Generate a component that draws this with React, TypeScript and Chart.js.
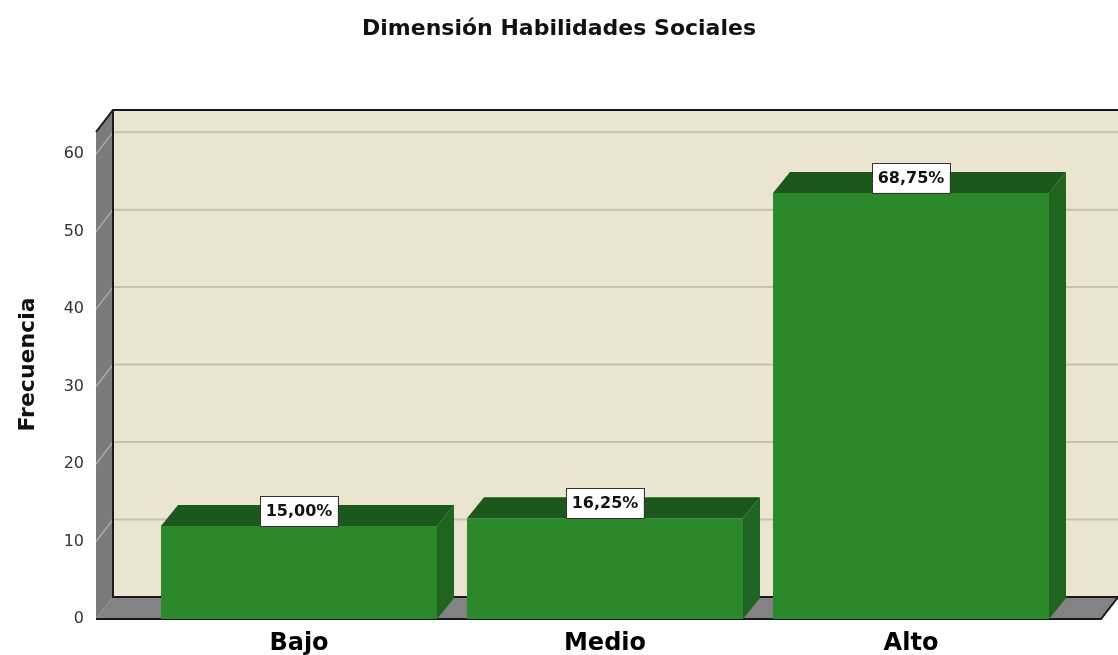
import React, { useEffect, useRef } from "react";
import { Chart, registerables } from "chart.js";

Chart.register(...registerables);

const categories = ["Bajo", "Medio", "Alto"];
const frequencies = [12, 13, 55];
const yTicks = [0, 10, 20, 30, 40, 50, 60];
const titleText = "Dimensión Habilidades Sociales";
const yAxisTitle = "Frecuencia";

const W = 1118;
const H = 655;
const DEPTH_X = 17;
const DEPTH_Y = 22;
const BAR_DX = 17;
const BAR_DY = 21;
const FONT = "'DejaVu Sans', 'Liberation Sans', Arial, sans-serif";

const total = frequencies.reduce((a, b) => a + b, 0);
const pctLabels = frequencies.map((v) => ((v / total) * 100).toFixed(2).replace(".", ",") + "%");

const box3d = {
  id: "box3d",
  beforeDraw(chart: any) {
    const ctx = chart.ctx;
    ctx.save();
    ctx.fillStyle = "#ffffff";
    ctx.fillRect(0, 0, chart.width, chart.height);
    ctx.restore();
  },
  beforeDatasetsDraw(chart: any) {
    const { ctx, chartArea: ca, scales } = chart;
    const ys = scales.y;
    const fl = ca.left - 50;
    const fr = ca.right + 37;
    const fb = ys.getPixelForValue(0);
    const bt = ca.top;
    const ft = bt + DEPTH_Y;
    const bx = fl + DEPTH_X;
    const bb = fb - DEPTH_Y;
    const br = fr + DEPTH_X;
    ctx.save();
    // back wall
    ctx.fillStyle = "#ebe4d0";
    ctx.fillRect(bx, bt, br - bx, bb - bt);
    // grid lines on back wall
    ctx.strokeStyle = "#c8c1ae";
    ctx.lineWidth = 2;
    ys.ticks.forEach((t: any) => {
      if (t.value === 0) return;
      const py = ys.getPixelForValue(t.value) - DEPTH_Y;
      ctx.beginPath();
      ctx.moveTo(bx, py);
      ctx.lineTo(br, py);
      ctx.stroke();
    });
    // left side wall
    ctx.fillStyle = "#7b7b7b";
    ctx.beginPath();
    ctx.moveTo(fl, fb);
    ctx.lineTo(fl, ft);
    ctx.lineTo(bx, bt);
    ctx.lineTo(bx, bb);
    ctx.closePath();
    ctx.fill();
    // side wall grid lines
    ctx.strokeStyle = "#a9a9a9";
    ctx.lineWidth = 1.5;
    ys.ticks.forEach((t: any) => {
      if (t.value === 0) return;
      const py = ys.getPixelForValue(t.value);
      ctx.beginPath();
      ctx.moveTo(fl, py);
      ctx.lineTo(bx, py - DEPTH_Y);
      ctx.stroke();
    });
    // floor
    ctx.fillStyle = "#838383";
    ctx.beginPath();
    ctx.moveTo(fl, fb);
    ctx.lineTo(bx, bb);
    ctx.lineTo(br, bb);
    ctx.lineTo(fr, fb);
    ctx.closePath();
    ctx.fill();
    // outlines
    ctx.strokeStyle = "#1a1a1a";
    ctx.lineWidth = 2;
    ctx.beginPath();
    ctx.moveTo(fl, ft);
    ctx.lineTo(bx, bt);
    ctx.lineTo(br, bt);
    ctx.moveTo(bx, bt);
    ctx.lineTo(bx, bb);
    ctx.lineTo(br, bb);
    ctx.moveTo(fl, fb);
    ctx.lineTo(fr, fb);
    ctx.lineTo(br, bb);
    ctx.stroke();
    ctx.restore();
  },
  afterDatasetsDraw(chart: any) {
    const { ctx } = chart;
    const meta = chart.getDatasetMeta(0);
    ctx.save();
    meta.data.forEach((bar: any, i: number) => {
      const half = bar.width / 2;
      const x0 = bar.x - half;
      const x1 = bar.x + half;
      const yt = bar.y;
      const yb = bar.base;
      // top face
      ctx.fillStyle = "#1c581c";
      ctx.beginPath();
      ctx.moveTo(x0, yt);
      ctx.lineTo(x0 + BAR_DX, yt - BAR_DY);
      ctx.lineTo(x1 + BAR_DX, yt - BAR_DY);
      ctx.lineTo(x1, yt);
      ctx.closePath();
      ctx.fill();
      // side face
      ctx.fillStyle = "#1f651f";
      ctx.beginPath();
      ctx.moveTo(x1, yt);
      ctx.lineTo(x1 + BAR_DX, yt - BAR_DY);
      ctx.lineTo(x1 + BAR_DX, yb - BAR_DY);
      ctx.lineTo(x1, yb);
      ctx.closePath();
      ctx.fill();
      // label box
      const text = pctLabels[i];
      ctx.font = `bold 16px ${FONT}`;
      const tw = ctx.measureText(text).width;
      const bw = tw + 11;
      const bh = 30;
      const lx = bar.x - bw / 2;
      const ly = yt - bh;
      ctx.fillStyle = "#ffffff";
      ctx.fillRect(lx, ly, bw, bh);
      ctx.strokeStyle = "#333333";
      ctx.lineWidth = 1;
      ctx.strokeRect(Math.round(lx) + 0.5, Math.round(ly) + 0.5, Math.round(bw), bh);
      ctx.fillStyle = "#111111";
      ctx.textAlign = "center";
      ctx.textBaseline = "middle";
      ctx.fillText(text, bar.x, ly + bh / 2 + 1);
    });
    ctx.restore();
  },
};

export default function App() {
  const ref = useRef<HTMLCanvasElement | null>(null);
  useEffect(() => {
    if (!ref.current) return;
    const chart = new Chart(ref.current, {
      type: "bar",
      data: {
        labels: categories,
        datasets: [
          {
            data: frequencies,
            backgroundColor: "#2b882b",
            borderWidth: 0,
            barPercentage: 0.902,
            categoryPercentage: 1.0,
            yAxisID: "y",
          },
        ],
      },
      options: {
        responsive: false,
        animation: false,
        layout: { padding: 0 },
        plugins: {
          legend: { display: false },
          tooltip: { enabled: false },
          title: {
            display: true,
            text: titleText,
            color: "#111111",
            font: { family: FONT, size: 22, weight: "bold" },
            padding: { top: 16, bottom: 67.6 },
          },
        },
        scales: {
          x: {
            grid: { display: false, drawTicks: false },
            border: { display: false },
            ticks: {
              color: "#000000",
              font: { family: FONT, size: 24, weight: "bold" },
              padding: 10,
            },
            afterFit: (s: any) => {
              s.height = 36;
              s.paddingLeft = 0;
              s.paddingRight = 0;
            },
          },
          y: {
            position: "left",
            min: 0,
            max: 65.7,
            grid: { display: false, drawTicks: false },
            border: { display: false },
            ticks: {
              stepSize: 10,
              includeBounds: false,
              color: "#333333",
              font: { family: FONT, size: 16 },
              padding: 62,
            },
            afterBuildTicks: (s: any) => {
              s.ticks = yTicks.map((v) => ({ value: v }));
            },
            title: {
              display: true,
              text: yAxisTitle,
              color: "#111111",
              font: { family: FONT, size: 22, weight: "bold" },
              padding: { top: 15, bottom: 0 },
            },
            afterFit: (s: any) => {
              s.width = 146;
              s.paddingTop = 0;
              s.paddingBottom = 0;
            },
          },
          y2: {
            type: "linear",
            position: "right",
            display: true,
            grid: { display: false, drawTicks: false },
            border: { display: false },
            ticks: { display: false },
            afterFit: (s: any) => {
              s.width = 54;
              s.paddingTop = 0;
              s.paddingBottom = 0;
            },
          },
        },
      } as any,
      plugins: [box3d],
    });
    return () => chart.destroy();
  }, []);
  return (
    <div style={{ position: "absolute", left: 0, top: 0, width: W, height: H }}>
      <canvas ref={ref} width={W} height={H} style={{ display: "block" }} />
    </div>
  );
}
